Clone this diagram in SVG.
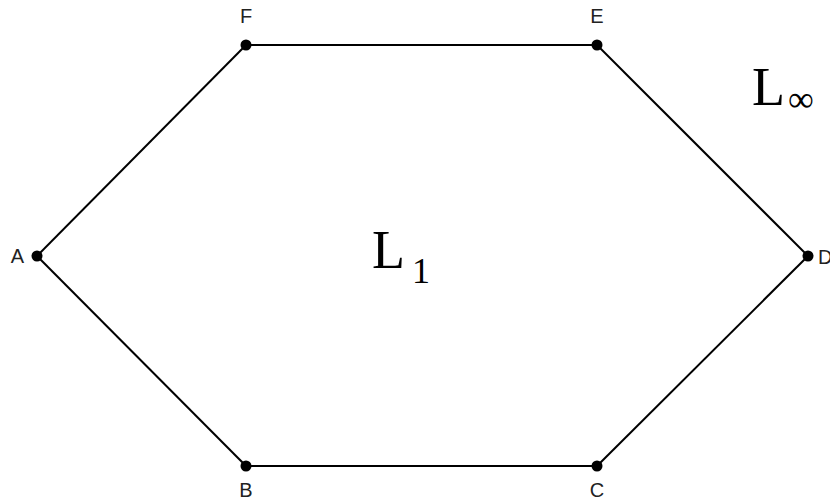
<svg xmlns="http://www.w3.org/2000/svg" width="830" height="499" viewBox="0 0 830 499">
<style>
.edge{stroke:#000;stroke-width:2;fill:none}
.dot{fill:#000}
.lbl{font-family:"Liberation Sans",Arial,sans-serif;font-size:20px;fill:#222}
.big{font-family:"Liberation Serif","Times New Roman",serif;font-size:54px;fill:#000}
.sub{font-family:"Liberation Serif","Times New Roman",serif;font-size:36px;fill:#000}
</style>
<rect width="830" height="499" fill="#fff"/>
<g id="connectors">
<line class="edge" x1="37" y1="256" x2="246" y2="45"/>
<line class="edge" x1="246" y1="45" x2="597" y2="45"/>
<line class="edge" x1="597" y1="45" x2="808" y2="256"/>
<line class="edge" x1="808" y1="256" x2="597" y2="466"/>
<line class="edge" x1="597" y1="466" x2="246" y2="466"/>
<line class="edge" x1="246" y1="466" x2="37" y2="256"/>
</g>
<g id="A"><circle class="dot" cx="37" cy="256" r="5.5"/><text class="lbl" x="24" y="263" text-anchor="end">A</text></g>
<g id="B"><circle class="dot" cx="246" cy="466" r="5.5"/><text class="lbl" x="246" y="497" text-anchor="middle">B</text></g>
<g id="C"><circle class="dot" cx="597" cy="466" r="5.5"/><text class="lbl" x="597" y="497" text-anchor="middle">C</text></g>
<g id="D"><circle class="dot" cx="808" cy="256" r="5.5"/><text class="lbl" x="818" y="264">D</text></g>
<g id="E"><circle class="dot" cx="597" cy="45" r="5.5"/><text class="lbl" x="597" y="23" text-anchor="middle">E</text></g>
<g id="F"><circle class="dot" cx="246" cy="45" r="5.5"/><text class="lbl" x="246" y="23" text-anchor="middle">F</text></g>
<g id="L1"><text class="big" x="372" y="268">L</text><text class="sub" x="412" y="283">1</text></g>
<g id="Linf"><text class="big" x="752" y="105">L</text><text class="sub" x="788" y="111">∞</text></g>
</svg>
